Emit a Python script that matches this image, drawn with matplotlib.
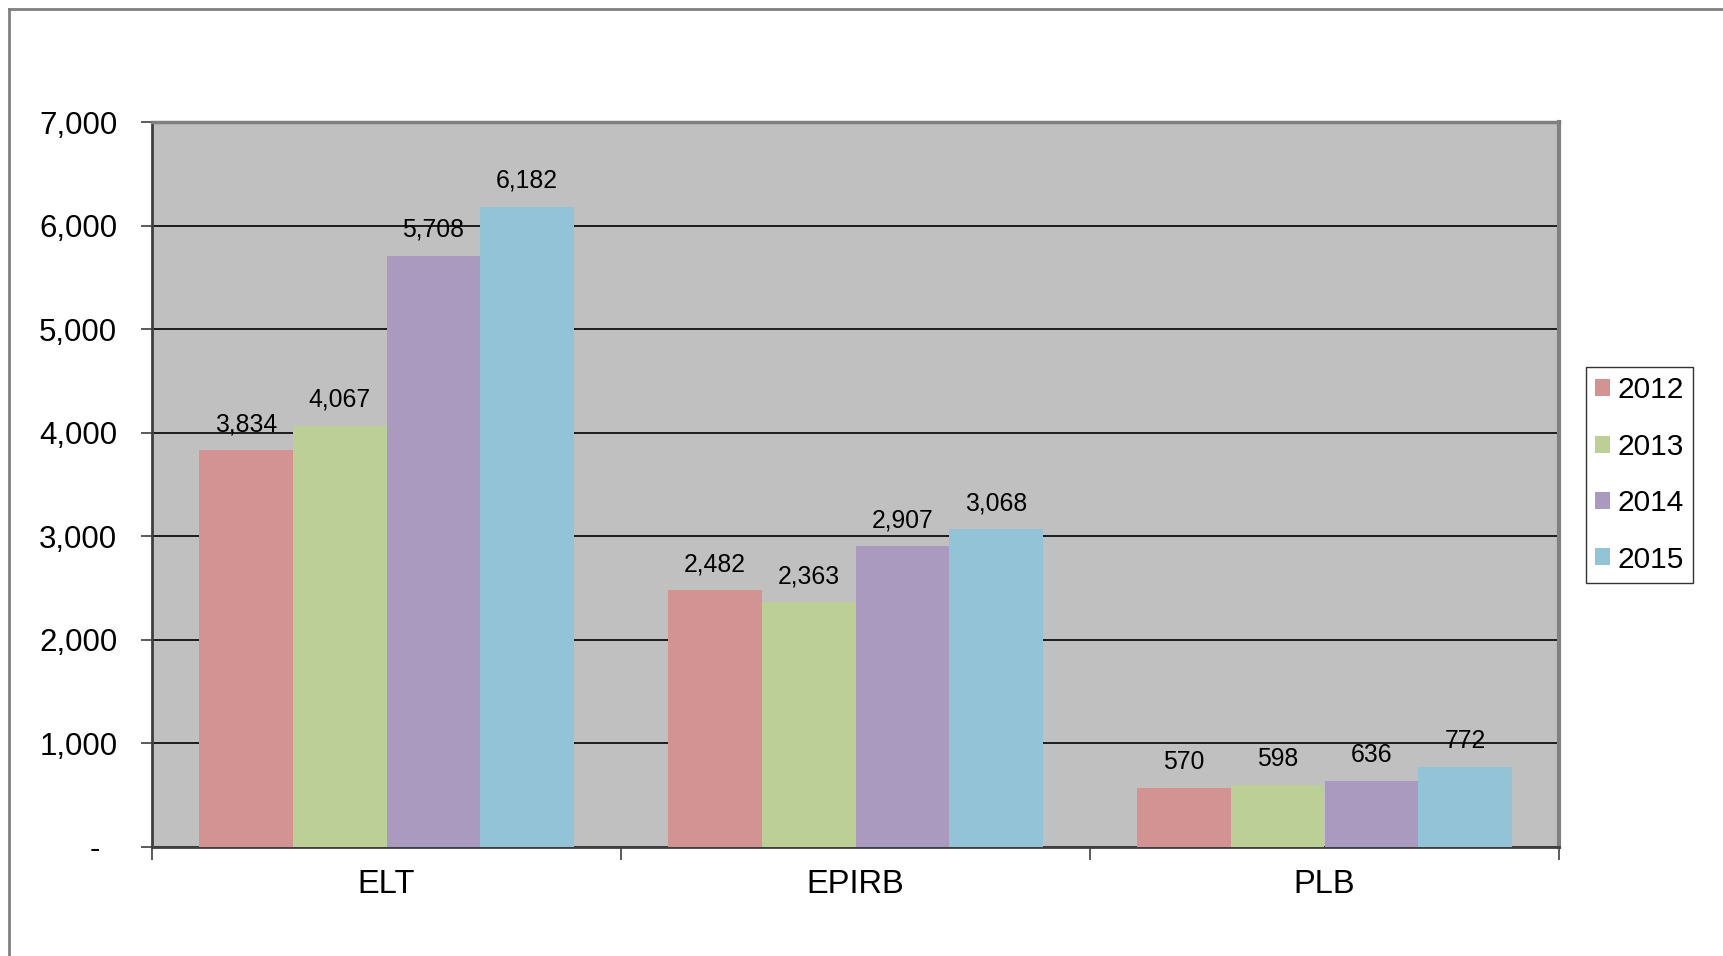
import matplotlib.pyplot as plt
import numpy as np
from matplotlib.lines import Line2D
from matplotlib.ticker import FuncFormatter

plt.rcParams['font.family'] = ['Liberation Sans', 'DejaVu Sans']

categories = ['ELT', 'EPIRB', 'PLB']
years = ['2012', '2013', '2014', '2015']
v2012 = [3834, 2482, 570]
v2013 = [4067, 2363, 598]
v2014 = [5708, 2907, 636]
v2015 = [6182, 3068, 772]
series = [v2012, v2013, v2014, v2015]
colors = ['#d39392', '#bbcf96', '#aa9abf', '#93c3d6']

fig = plt.figure(figsize=(17.23, 9.56), dpi=100)
ax = fig.add_axes([152/1723, 1 - 847/956, (1559 - 152)/1723, (847 - 122)/956])
ax.set_facecolor('#c0c0c0')

x = np.arange(len(categories))
w = 0.2
for i, vals in enumerate(series):
    pos = x - 0.3 + i*w
    bars = ax.bar(pos, vals, width=w, color=colors[i], label=years[i], zorder=3)
    for b, v in zip(bars, vals):
        ax.annotate(f'{v:,}', (b.get_x() + b.get_width()/2, v), xytext=(0, 10),
                    textcoords='offset points', ha='center', va='bottom',
                    fontsize=17.8, zorder=4)

ax.set_xlim(-0.5, 2.5)
ax.set_ylim(0, 7000)
ax.set_yticks(range(0, 7001, 1000))
ax.yaxis.set_major_formatter(FuncFormatter(lambda v, p: '-  ' if v == 0 else f'{int(v):,}'))
ax.yaxis.grid(True, color='black', linewidth=1.2, zorder=1)
ax.tick_params(axis='y', labelsize=22.5, length=8, width=1.2, color='#404040', pad=17)

ax.set_xticks([-0.5, 0.5, 1.5, 2.5])
ax.set_xticklabels([])
ax.set_xticks(x, minor=True)
ax.set_xticklabels(categories, minor=True, fontsize=23.5)
ax.tick_params(axis='x', which='major', length=9, width=1.2, color='#404040')
ax.tick_params(axis='x', which='minor', length=0, pad=16)

ax.spines['left'].set_color('#404040')
ax.spines['left'].set_linewidth(2)
ax.spines['bottom'].set_color('#404040')
ax.spines['bottom'].set_linewidth(2)
ax.spines['top'].set_color('#808080')
ax.spines['top'].set_linewidth(2.5)
ax.spines['right'].set_color('#808080')
ax.spines['right'].set_linewidth(3)

leg = ax.legend(loc='center left', bbox_to_anchor=(1586/1723, 1 - 475/956),
                bbox_transform=fig.transFigure, fontsize=21.5, frameon=True,
                fancybox=False, handlelength=0.5, handleheight=0.5,
                handletextpad=0.25, labelspacing=0.95, borderpad=0.3,
                borderaxespad=0)
leg.get_frame().set_edgecolor('black')
leg.get_frame().set_linewidth(1)

fig.add_artist(Line2D([9/1723, 9/1723], [0, 1 - 9/956], color='#808080', linewidth=2,
                      transform=fig.transFigure))
fig.add_artist(Line2D([9/1723, 1], [1 - 9/956, 1 - 9/956], color='#808080', linewidth=2,
                      transform=fig.transFigure))

fig.savefig('out.png', dpi=100)
